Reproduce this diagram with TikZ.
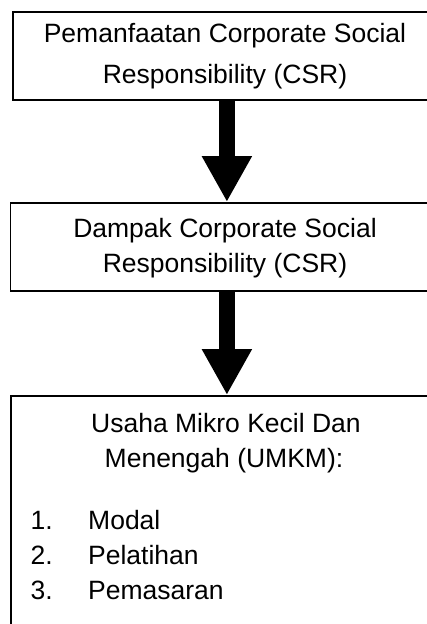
\documentclass[tikz,border=0pt]{standalone}
\usepackage{fontspec}
\setmainfont{Liberation Sans}
\usetikzlibrary{arrows.meta}
\begin{document}
\begin{tikzpicture}[x=1pt,y=-1pt,
  box/.style={draw, line width=1.8pt, inner sep=0pt, anchor=north west},
  txt/.style={font=\fontsize{26.5}{30}\selectfont, anchor=base, inner sep=0pt},
  itm/.style={font=\fontsize{26.5}{30}\selectfont, anchor=base west, inner sep=0pt},
  bigarrow/.style={line width=16pt, -{Triangle[length=46pt,width=47pt]}}]
\useasboundingbox (0,0) rectangle (427,624);
\clip (0,0) rectangle (427,624);
\node[box, minimum width=428pt, minimum height=88.3pt] (b1) at (12,10.7) {};
\node[box, minimum width=433pt, minimum height=88pt] (b2) at (9.5,202) {};
\node[box, minimum width=432pt, minimum height=260pt] (b3) at (10,395) {};
\draw[bigarrow] (b1.south) -- (b2.north -| b1.south);
\draw[bigarrow] (b2.south -| b1.south) -- (b3.north -| b1.south);
\node[txt] (t1) at (225,42.3) {Pemanfaatan Corporate Social};
\node[txt] (t2) at (225,83) {Responsibility (CSR)};
\node[txt] (t3) at (225,237) {Dampak Corporate Social};
\node[txt] (t4) at (225,272) {Responsibility (CSR)};
\node[txt] (t5) at (226,432) {Usaha Mikro Kecil Dan};
\node[txt] (t6) at (224,467) {Menengah (UMKM):};
\node[itm] (n1) at (30.5,529) {1.};
\node[itm] (i1) at (88,529) {Modal};
\node[itm] (n2) at (30.5,564.5) {2.};
\node[itm] (i2) at (88,564.5) {Pelatihan};
\node[itm] (n3) at (30.5,599.5) {3.};
\node[itm] (i3) at (88,599.5) {Pemasaran};
\end{tikzpicture}
\end{document}
